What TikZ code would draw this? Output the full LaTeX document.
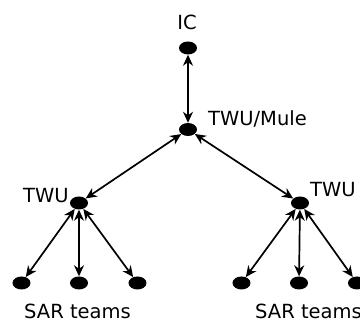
\documentclass[tikz,border=0pt]{standalone}
\usepackage{fontspec}
\setmainfont{DejaVu Sans}
\usetikzlibrary{shapes.geometric,arrows.meta}
\begin{document}
\begin{tikzpicture}[x=1pt,y=-1pt,
  dot/.style={ellipse,fill=black,draw=none,inner sep=0pt,minimum width=18pt,minimum height=13pt},
  lbl/.style={inner sep=0pt,font=\fontsize{19.5}{22}\selectfont},
  tip/.tip={Stealth[length=11pt,width=10pt,inset=3.5pt]},
  link/.style={line width=1.7pt,tip-tip}]
\useasboundingbox (0,0) rectangle (360,320);
% nodes of the hierarchy
\node[dot] (ic)   at (188,48)  {};
\node[dot] (mule) at (188,129.5) {};
\node[dot] (twuL) at (79,203)  {};
\node[dot] (twuR) at (300,203) {};
\node[dot] (l1) at (21.5,283) {};
\node[dot] (l2) at (79,283)   {};
\node[dot] (l3) at (137.5,283) {};
\node[dot] (r1) at (241.5,283) {};
\node[dot] (r2) at (299,283)   {};
\node[dot] (r3) at (357,283)   {};
% labels
\node[lbl,anchor=base] (tIC) at (187,30) {IC};
\node[lbl,anchor=base west] (tMule) at (208,126) {TWU/Mule};
\node[lbl,anchor=base west] (tL) at (23,203) {TWU};
\node[lbl,anchor=base west] (tR) at (310,196.5) {TWU};
\node[lbl,anchor=base] (sL) at (77.5,318.5) {SAR teams};
\node[lbl,anchor=base west] (sR) at (255,318.5) {SAR teams};
% two-way links
\draw[link] (ic) -- (mule);
\draw[link] (mule) -- (twuL);
\draw[link] (mule) -- (twuR);
\foreach \t in {l1,l2,l3} \draw[link] (twuL) -- (\t);
\foreach \t in {r1,r2,r3} \draw[link] (twuR) -- (\t);
\end{tikzpicture}
\end{document}
